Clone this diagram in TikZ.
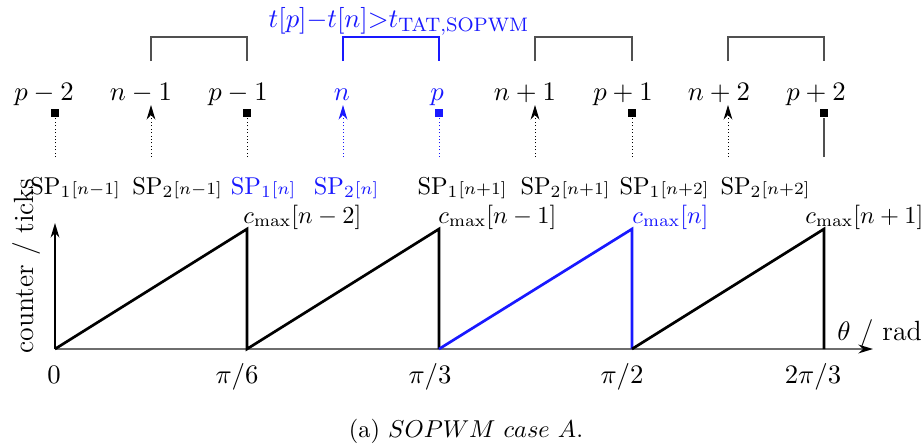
\documentclass[tikz,border=0pt]{standalone}
\usetikzlibrary{arrows.meta}
\definecolor{bl}{RGB}{25,25,255}
\definecolor{brkc}{RGB}{80,80,80}
\definecolor{axg}{RGB}{110,110,110}
\begin{document}
\begin{tikzpicture}[x=0.41pt,y=-0.41pt,
  lab/.style={font=\fontsize{11.4}{13.5}\selectfont, inner sep=0, anchor=base},
  splab/.style={font=\fontsize{10}{12}\selectfont, inner sep=0, anchor=base},
  cmaxlab/.style={font=\fontsize{10}{12}\selectfont, inner sep=0, anchor=base west},
  sqmark/.style={fill, rectangle, minimum size=3.6pt, inner sep=0},
  dotl/.style={densely dotted, line width=0.4pt},
  brk/.style={draw=brkc, line width=0.6pt},
  saw/.style={line width=1.1pt, line join=miter},
  arrtip/.style={-{Stealth[length=6pt,width=3.6pt]}}
]
\useasboundingbox (0,0) rectangle (924,447);

% top labels
\node[lab] (Lpm2) at (44,100) {$p-2$};
\node[lab] (Lnm1) at (141,100) {$n-1$};
\node[lab] (Lpm1) at (238,100) {$p-1$};
\node[lab,text=bl] (Ln) at (342,100) {$n$};
\node[lab,text=bl] (Lp) at (437,100) {$p$};
\node[lab] (Lnp1) at (525,100) {$n+1$};
\node[lab] (Lpp1) at (623,100) {$p+1$};
\node[lab] (Lnp2) at (719,100) {$n+2$};
\node[lab] (Lpp2) at (816,100) {$p+2$};

% condition label
\node[lab,text=bl] (cond) at (399,27) {$t[p]{-}t[n]{>}t_{\mathrm{TAT,SOPWM}}$};

% brackets
\draw[brk] (151,61) -- (151,37) -- (247,37) -- (247,61);
\draw[brk,draw=bl] (343,61) -- (343,37) -- (439,37) -- (439,61);
\draw[brk] (535,61) -- (535,37) -- (632,37) -- (632,61);
\draw[brk] (728,61) -- (728,37) -- (824,37) -- (824,61);

% square markers
\node[sqmark] (Mpm2) at (55,113) {};
\node[sqmark] (Mpm1) at (247,113) {};
\node[sqmark,fill=bl] (Mp) at (439,113) {};
\node[sqmark] (Mpp1) at (632,113) {};
\node[sqmark] (Mpp2) at (824,113) {};

% arrow tip coordinates
\coordinate (Tnm1) at (151,105);
\coordinate (Tn) at (343,105);
\coordinate (Tnp1) at (535,105);
\coordinate (Tnp2) at (728,105);

% bottom coordinates
\coordinate (Bpm2) at (55,157);
\coordinate (Bnm1) at (151,157);
\coordinate (Bpm1) at (247,157);
\coordinate (Bn) at (343,157);
\coordinate (Bp) at (439,157);
\coordinate (Bnp1) at (535,157);
\coordinate (Bpp1) at (632,157);
\coordinate (Bnp2) at (728,157);
\coordinate (Bpp2) at (824,157);

\draw[dotl] (Bpm2) -- (Mpm2);
\draw[dotl] (Bpm1) -- (Mpm1);
\draw[dotl,bl] (Bp) -- (Mp);
\draw[dotl] (Bpp1) -- (Mpp1);
\draw[brkc,line width=0.5pt] (Bpp2) -- (Mpp2);
\draw[dotl,arrtip] (Bnm1) -- (Tnm1);
\draw[dotl,arrtip,bl] (Bn) -- (Tn);
\draw[dotl,arrtip] (Bnp1) -- (Tnp1);
\draw[dotl,arrtip] (Bnp2) -- (Tnp2);

% SP labels
\node[splab] (S1) at (75,194) {$\mathrm{SP}_1\scriptstyle[n-1]$};
\node[splab] (S2) at (177,194) {$\mathrm{SP}_2\scriptstyle[n-1]$};
\node[splab,text=bl] (S3) at (263,194) {$\mathrm{SP}_1\scriptstyle[n]$};
\node[splab,text=bl] (S4) at (346,194) {$\mathrm{SP}_2\scriptstyle[n]$};
\node[splab] (S5) at (462,194) {$\mathrm{SP}_1\scriptstyle[n+1]$};
\node[splab] (S6) at (565,194) {$\mathrm{SP}_2\scriptstyle[n+1]$};
\node[splab] (S7) at (664,194) {$\mathrm{SP}_1\scriptstyle[n+2]$};
\node[splab] (S8) at (765,194) {$\mathrm{SP}_2\scriptstyle[n+2]$};

% axes
\coordinate (O) at (55,349);
\coordinate (Xe) at (873,349);
\coordinate (Ye) at (55,223);
\draw[axg,line width=0.8pt,-{Stealth[length=6pt,width=3.6pt,black]}] (O) -- (Xe);
\draw[line width=0.5pt,arrtip] (O) -- (Ye);

% sawtooth
\coordinate (P1) at (247,229); \coordinate (Q1) at (247,349);
\coordinate (P2) at (439,229); \coordinate (Q2) at (439,349);
\coordinate (P3) at (632,229); \coordinate (Q3) at (632,349);
\coordinate (P4) at (824,229); \coordinate (Q4) at (824,349);
\draw[saw] (O) -- (P1) -- (Q1) -- (P2) -- (Q2);
\draw[saw,bl] (Q2) -- (P3) -- (Q3);
\draw[saw] (Q3) -- (P4) -- (Q4);

% cmax labels
\node[cmaxlab] (C1) at (243,223) {$c_{\max}[n-2]$};
\node[cmaxlab] (C2) at (438,223) {$c_{\max}[n-1]$};
\node[cmaxlab,text=bl] (C3) at (632,223) {$c_{\max}[n]$};
\node[cmaxlab] (C4) at (805,223) {$c_{\max}[n+1]$};

% tick labels
\node[lab] (t0) at (54,383) {$0$};
\node[lab] (t1) at (237,383) {$\pi/6$};
\node[lab] (t2) at (430,383) {$\pi/3$};
\node[lab] (t3) at (622,383) {$\pi/2$};
\node[lab] (t4) at (813,383) {$2\pi/3$};

% axis labels
\node[lab,anchor=base west] (xl) at (837,340) {$\theta$ / rad};
\node[lab,rotate=90,anchor=base] (yl) at (34,266) {counter / ticks};

% caption
\node[font=\fontsize{10}{12}\selectfont,inner sep=0,anchor=base] (cap) at (466,437) {(a) $SOPWM\ case\ A.$};
\end{tikzpicture}
\end{document}
